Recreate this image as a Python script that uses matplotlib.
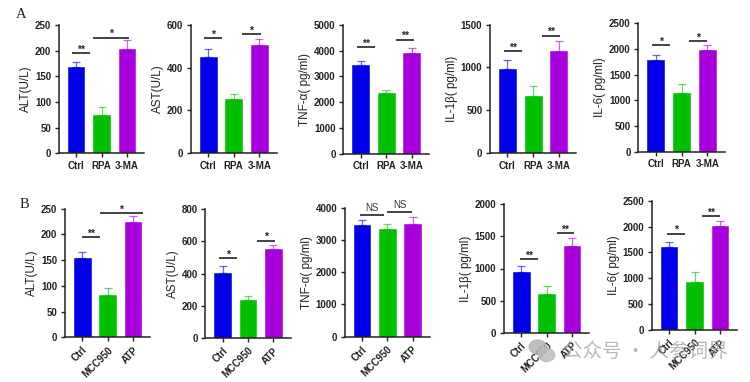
#!/usr/bin/env python3
"""Liver enzyme and cytokine bar panels, rows A and B."""
import matplotlib
matplotlib.use("Agg")
import matplotlib.pyplot as plt
from matplotlib.patches import Ellipse

W, H = 750, 382

COLORS = ["#0000e8", "#00c000", "#a800dc"]
GROUPS_A = ["Ctrl", "RPA", "3-MA"]
GROUPS_B = ["Ctrl", "MCC950", "ATP"]

# row A: means, top of error bar
alt_a = [168, 75, 204]
alt_a_top = [178, 90, 221]
ast_a = [447, 255, 506]
ast_a_top = [485, 278, 533]
tnf_a = [3460, 2345, 3900]
tnf_a_top = [3614, 2460, 4120]
il1_a = [982, 666, 1192]
il1_a_top = [1083, 783, 1313]
il6_a = [1779, 1136, 1974]
il6_a_top = [1883, 1318, 2078]

# row B
alt_b = [155, 82, 224]
alt_b_top = [166, 95, 236]
ast_b = [404, 238, 551]
ast_b_top = [446, 259, 580]
tnf_b = [3452, 3349, 3504]
tnf_b_top = [3628, 3483, 3721]
il1_b = [951, 603, 1351]
il1_b_top = [1044, 722, 1470]
il6_b = [1598, 934, 2004]
il6_b_top = [1707, 1121, 2100]

# significance bars: label, height, first x, last x (in bar units)
sig_alt_a = [("**", 195, -0.14, 0.56), ("*", 225, 0.66, 2.08)]
sig_ast_a = [("*", 536, -0.16, 0.55), ("*", 555, 1.34, 2.05)]
sig_tnf_a = [("**", 4145, -0.16, 0.55), ("**", 4430, 1.39, 2.10)]
sig_il1_a = [("**", 1188, -0.14, 0.56), ("**", 1371, 1.36, 2.06)]
sig_il6_a = [("*", 2078, -0.14, 0.55), ("*", 2149, 1.30, 2.00)]
sig_alt_b = [("**", 195, 0.0, 0.70), ("*", 241, 0.68, 2.39)]
sig_ast_b = [("*", 497, -0.16, 0.55), ("*", 605, 1.34, 2.05)]
sig_tnf_b = [("NS", 3762, -0.08, 0.88), ("NS", 3855, 1.0, 1.99)]
sig_il1_b = [("**", 1143, -0.05, 0.65), ("**", 1553, 1.39, 2.06)]
sig_il6_b = [("*", 1862, -0.06, 0.63), ("**", 2204, 1.30, 2.00)]

# left, baseline, right, top of each axis in pixels of the picture
PANELS = [
    ((58.7, 153.3, 144.3, 25.0), "ALT(U/L)", alt_a, alt_a_top, sig_alt_a, [0, 50, 100, 150, 200, 250], GROUPS_A),
    ((190.7, 153.3, 276.7, 24.7), "AST(U/L)", ast_a, ast_a_top, sig_ast_a, [0, 200, 400, 600], GROUPS_A),
    ((343.3, 153.7, 429.3, 25.0), "TNF-α( pg/ml)", tnf_a, tnf_a_top, sig_tnf_a, [0, 1000, 2000, 3000, 4000, 5000], GROUPS_A),
    ((490.0, 153.0, 576.3, 24.7), "IL-1β( pg/ml)", il1_a, il1_a_top, sig_il1_a, [0, 500, 1000, 1500], GROUPS_A),
    ((638.3, 151.7, 725.0, 23.3), "IL-6( pg/ml)", il6_a, il6_a_top, sig_il6_a, [0, 500, 1000, 1500, 2000, 2500], GROUPS_A),
    ((65.0, 337.3, 150.3, 208.7), "ALT(U/L)", alt_b, alt_b_top, sig_alt_b, [0, 50, 100, 150, 200, 250], GROUPS_B),
    ((205.3, 338.0, 290.7, 209.3), "AST(U/L)", ast_b, ast_b_top, sig_ast_b, [0, 200, 400, 600, 800], GROUPS_B),
    ((344.7, 336.7, 430.0, 207.7), "TNF-α( pg/ml)", tnf_b, tnf_b_top, sig_tnf_b, [0, 1000, 2000, 3000, 4000], GROUPS_B),
    ((504.0, 332.7, 589.3, 204.3), "IL-1β( pg/ml)", il1_b, il1_b_top, sig_il1_b, [0, 500, 1000, 1500, 2000], GROUPS_B),
    ((651.7, 330.0, 737.3, 200.7), "IL-6( pg/ml)", il6_b, il6_b_top, sig_il6_b, [0, 500, 1000, 1500, 2000, 2500], GROUPS_B),
]

plt.rcParams.update({"font.family": ["Liberation Sans", "DejaVu Sans"], "font.size": 7,
                     "axes.spines.top": False, "axes.spines.right": False})


def draw_panel(fig, box, ylabel, means, tops, sigs, ticks, groups):
    left, base, right, top = box
    ax = fig.add_axes([left / W, 1 - base / H, (right - left) / W, (base - top) / H])
    ax.patch.set_alpha(0)
    x = range(3)
    ax.bar(x, means, width=0.66, color=COLORS, edgecolor=COLORS, lw=0.4, zorder=2)
    for i in x:
        ax.errorbar(i, means[i], yerr=[[0], [tops[i] - means[i]]], color=COLORS[i], alpha=.6,
                    lw=0.9, capsize=3, capthick=0.9, zorder=1)
    for label, y, x0, x1 in sigs:
        ax.plot([x0, x1], [y, y], color="#222222", lw=1.2, clip_on=False, solid_capstyle="butt")
        if label == "NS":
            ax.annotate(label, ((x0 + x1) / 2, y), xytext=(0, 1.5), textcoords="offset points",
                        ha="center", va="bottom", fontsize=7, color="#333333", annotation_clip=False)
        else:
            ax.annotate(label, ((x0 + x1) / 2, y), xytext=(0, -1), textcoords="offset points",
                        ha="center", va="bottom", fontsize=7.5, fontweight="bold", color="#222222",
                        annotation_clip=False)
    ax.set_xlim(-0.68, 2.68)
    ax.set_ylim(0, ticks[-1])
    ax.set_yticks(ticks)
    ax.set_xticks(list(x))
    if groups is GROUPS_B:
        ax.set_xticklabels(groups, rotation=45, ha="right", rotation_mode="anchor", fontweight="bold")
    else:
        ax.set_xticklabels(groups, fontweight="bold")
    for lab in ax.get_yticklabels():
        lab.set_fontweight("bold")
    ax.tick_params(length=3, width=1.0, color="#222222", labelcolor="#222222", pad=2.5)
    for s in ("left", "bottom"):
        ax.spines[s].set_linewidth(1.1)
        ax.spines[s].set_color("#222222")
    ax.set_ylabel(ylabel, fontsize=8.4, color="#222222", labelpad=2)


def main():
    fig = plt.figure(figsize=(W / 100, H / 100), dpi=100)
    for box, ylabel, means, tops, sigs, ticks, groups in PANELS:
        draw_panel(fig, box, ylabel, means, tops, sigs, ticks, groups)

    fig.text(16 / W, 1 - 14 / H, "A", family="Liberation Serif", fontsize=10.5, color="#222222", va="center")
    fig.text(20 / W, 1 - 204 / H, "B", family="Liberation Serif", fontsize=10.5, color="#222222", va="center")

    # watermark
    over = fig.add_axes([0, 0, 1, 1])
    over.set_xlim(0, W)
    over.set_ylim(H, 0)
    over.axis("off")
    over.patch.set_alpha(0)
    over.add_patch(Ellipse((537.7, 347), 17, 14, color="#b4b4b4", alpha=.85))
    over.add_patch(Ellipse((546.7, 355), 16, 13, color="#bcbcbc", alpha=.85))
    fig.text(563 / W, 1 - 351 / H, "公众号 · 人参词界", family=["Noto Sans CJK SC", "DejaVu Sans"],
             fontsize=14, color="#a0a0a0", alpha=.75, va="center")
    fig.savefig("out.png", dpi=100)
    plt.close(fig)


if __name__ == "__main__":
    main()
